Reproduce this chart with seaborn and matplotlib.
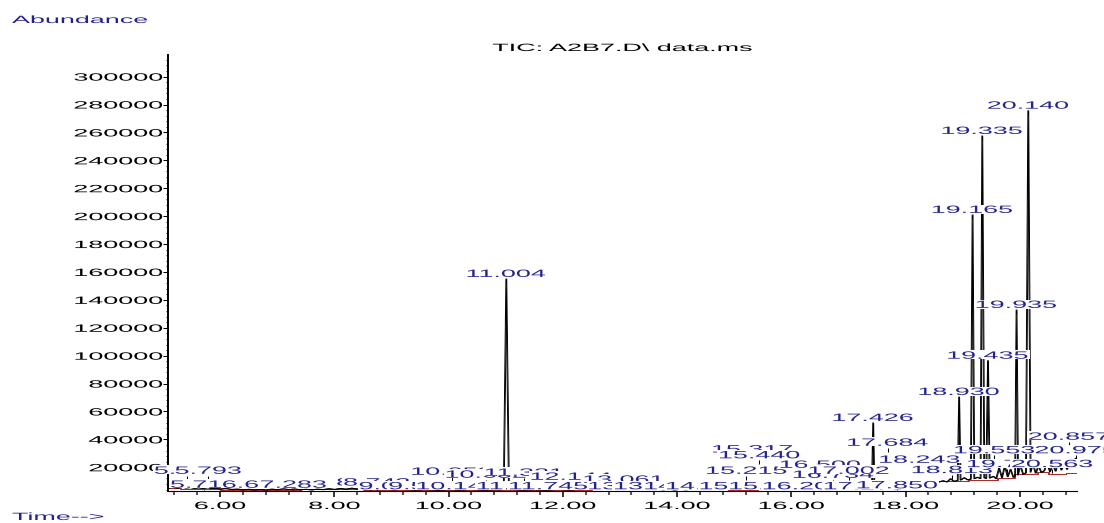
import numpy as np
import matplotlib
matplotlib.use("Agg")
import matplotlib.pyplot as plt
import matplotlib.patheffects as pe
from matplotlib.transforms import Affine2D
from matplotlib.path import Path
from matplotlib.ticker import MultipleLocator, FixedLocator, FormatStrFormatter
import seaborn as sns

# ---------------- data ----------------
trace_time = [5.10, 5.18, 5.25, 5.32, 5.40, 5.48, 5.55, 5.62, 5.70, 5.78, 5.85, 5.92,
              6.00, 6.10, 6.20, 6.30, 6.40, 6.50, 6.60, 6.70, 6.80, 6.90, 7.00, 7.10,
              7.20, 7.30, 7.40, 7.50, 7.60, 7.70, 7.80, 7.90, 8.00, 8.10, 8.20, 8.30,
              8.40, 8.50, 8.60, 8.70, 8.80, 8.90, 9.00, 9.20, 9.40, 9.60, 9.80, 10.00,
              10.20, 10.40, 10.60, 10.80, 10.90, 10.96, 11.004, 11.05, 11.10, 11.30,
              11.50, 11.70, 11.90, 12.10, 12.30, 12.45, 12.55, 12.65, 12.75, 12.85,
              12.95, 13.05, 13.15, 13.25, 13.35, 13.45, 13.55, 13.65, 13.75, 13.85,
              13.95, 14.05, 14.15, 14.25, 14.35, 14.45, 14.55, 14.65, 14.75, 14.85,
              14.95, 15.05, 15.15, 15.25, 15.35, 15.45, 15.55, 15.65, 15.75, 15.85,
              15.95, 16.05, 16.15, 16.25, 16.35, 16.45, 16.55, 16.65, 16.75, 16.85,
              16.95, 17.05, 17.15, 17.25, 17.35, 17.405, 17.426, 17.445, 17.55, 17.65,
              17.75, 17.85, 17.95, 18.05, 18.15, 18.25, 18.35, 18.45, 18.55, 18.65,
              18.72, 18.78, 18.84, 18.905, 18.93, 18.955, 19.02, 19.08, 19.135, 19.165,
              19.195, 19.25, 19.305, 19.335, 19.37, 19.405, 19.435, 19.465, 19.53, 19.58,
              19.63, 19.68, 19.73, 19.78, 19.83, 19.88, 19.91, 19.935, 19.96, 20.00,
              20.05, 20.10, 20.14, 20.18, 20.22, 20.27, 20.32, 20.37, 20.42, 20.47,
              20.52, 20.57, 20.62, 20.67, 20.72, 20.77, 20.82, 20.87, 20.92, 20.97,
              21.00]
trace_abund = [5200, 5600, 5000, 5800, 5200, 5500, 4900, 5300, 4800, 5400, 4700, 5000,
               4400, 4700, 4100, 4300, 3900, 4200, 3800, 4100, 3700, 4300, 3900, 4500,
               4000, 4400, 3900, 4200, 3800, 4300, 4000, 4600, 4100, 4800, 4300, 5000,
               4400, 4900, 4200, 4700, 4100, 4400, 3900, 4200, 3800, 4100, 3700, 4000,
               3800, 4100, 3700, 4000, 3900, 4200, 155000, 4500, 4100, 3800,
               4000, 3700, 4100, 3800, 4300, 4900, 4400, 5600, 4800, 5400,
               4700, 5200, 4500, 4900, 4300, 4700, 4100, 4400, 3900, 4300,
               3800, 4200, 3900, 4500, 4100, 4600, 4200, 4700, 4300, 4800,
               4400, 5000, 4600, 5200, 4800, 5400, 5000, 5600, 5200, 5900,
               5500, 6200, 5800, 6600, 6100, 6900, 6400, 7200, 6700, 7500,
               7000, 7800, 7200, 8100, 7600, 8000, 51800, 8200, 7800, 8600,
               8000, 8900, 8300, 9200, 8600, 9500, 8900, 9800, 9200, 10300,
               9500, 11800, 9900, 10500, 70400, 10800, 12500, 11000, 11500, 200900,
               11800, 12800, 11900, 257500, 12500, 12000, 96400, 12300, 13500, 11800,
               19500, 12500, 21000, 13200, 18500, 12800, 14000, 132800, 14500, 21500,
               15000, 16000, 275600, 16500, 22500, 15800, 21000, 16200, 17500, 23000,
               16800, 22000, 17200, 24500, 18000, 23000, 18500, 25500, 21500, 26500,
               24000]

base_time = [5.10, 5.30, 5.60, 6.00, 6.80, 7.40, 7.90, 8.50, 9.10, 10.40, 10.90, 11.40,
             12.00, 12.50, 13.10, 13.90, 14.90, 15.40, 15.90, 16.10, 16.80, 17.60,
             18.10, 18.40, 18.70, 19.10, 19.60, 19.90, 20.30, 20.50, 20.80, 21.00]
base_abund = [5000, 4500, 4200, 3600, 3800, 4100, 4400, 4000, 3600, 3400, 3700, 3900,
              3500, 3300, 3200, 3300, 3800, 4400, 6100, 7300, 8700, 9700,
              10900, 10200, 10200, 10900, 12000, 15200, 16500, 15200, 16000, 16000]

peak_rt = [5.430, 5.713, 5.793, 6.620, 7.283, 8.620, 8.743, 9.013, 9.534, 10.053,
           10.143, 10.652, 11.004, 11.181, 11.321, 11.745, 12.144, 13.061, 13.154,
           13.603, 14.115, 14.512, 15.098, 15.215, 15.317, 15.440, 15.617, 16.205,
           16.500, 16.734, 17.002, 17.275, 17.426, 17.684, 17.850, 18.243, 18.813,
           18.930, 19.165, 19.335, 19.435, 19.553, 19.780, 19.935, 20.140, 20.563,
           20.857, 20.975]
peak_abund = [13900, 3900, 13900, 3900, 3900, 5500, 5500, 2800, 2800, 13200,
              2800, 11100, 155000, 2800, 12500, 2800, 9600, 7500, 2800,
              2800, 2800, 2800, 2800, 13900, 29200, 25000, 2800, 2800,
              18200, 11000, 13900, 2800, 51800, 34000, 3500, 21800, 14400,
              70400, 200900, 257500, 96400, 28600, 18700, 132800, 275600, 18700,
              38300, 28600]

x_ticks = [6, 8, 10, 12, 14, 16, 18, 20]
y_ticks = list(range(20000, 300001, 20000))
title_text = "TIC: A2B7.D\\ data.ms"
y_label_text = "Abundance"
x_label_text = "Time-->"

# ---------------- style ----------------
sns.set_style("white")
plt.rcParams["font.family"] = ["Liberation Sans", "DejaVu Sans"]

W, H = 1104, 523
SX = 2.55          # horizontal stretch of the lettering
FS = 7.6
NAVY = "#23238f"
RED = "#b02a2a"


class Stretch(pe.AbstractPathEffect):
    """Draw text glyphs horizontally widened around an anchor."""
    def __init__(self, sx=SX, anchor="center"):
        super().__init__()
        self.sx = sx
        self.anchor = anchor

    def draw_path(self, renderer, gc, tpath, affine, rgbFace=None):
        v = tpath.vertices
        if v is None or len(v) == 0:
            return
        codes = tpath.codes
        vv = v if codes is None else v[codes != Path.CLOSEPOLY]
        x0, x1 = vv[:, 0].min(), vv[:, 0].max()
        cx = {"center": 0.5 * (x0 + x1), "left": 0.0, "right": x1}[self.anchor]
        t = Affine2D().translate(-cx, 0).scale(self.sx, 1).translate(cx, 0)
        renderer.draw_path(gc, tpath, t + affine, rgbFace)


def wide_box(x0, y0, width, height, mutation_size):
    m = mutation_size
    w = width * SX
    nx0 = x0 + width / 2 - w / 2
    yb = y0 + 0.13 * m
    yt = y0 + height + 0.03 * m
    px = 1.0
    return Path([(nx0 - px, yb), (nx0 + w + px, yb), (nx0 + w + px, yt),
                 (nx0 - px, yt), (nx0 - px, yb)], closed=True)


fig = plt.figure(figsize=(W / 100, H / 100), dpi=100)
ax = fig.add_axes([168 / W, 1 - 491 / H, (1077 - 168) / W, (491 - 55) / H])

double = [pe.Stroke(offset=(0.6, 0)), pe.Normal()]
sns.lineplot(x=base_time, y=base_abund, drawstyle="steps-post", color=RED,
             lw=0.7, ax=ax, errorbar=None, zorder=1.8, path_effects=double)
sns.lineplot(x=trace_time, y=trace_abund, color="black", lw=0.7, ax=ax,
             errorbar=None, zorder=2, path_effects=double)

# peak marker ticks
ax.vlines(peak_rt, np.array(peak_abund) - 2900, peak_abund, color="black",
          lw=0.75, zorder=2.2)

# peak labels (later ones cover earlier ones)
for i, (rt, ab) in enumerate(zip(peak_rt, peak_abund)):
    ax.annotate(f"{rt:.3f}", xy=(rt, ab), xytext=(0, 2), textcoords="offset pixels",
                ha="center", va="baseline", color=NAVY, fontsize=FS,
                annotation_clip=False, zorder=5 + i * 0.01,
                path_effects=[Stretch(anchor="center")],
                bbox=dict(boxstyle=wide_box, fc="white", ec="none", lw=0))

ax.set_xlim(5.09, 21.0)
ax.set_ylim(3000, 315500)
ax.set_xlabel("")
ax.set_ylabel("")

for s in ("top", "right"):
    ax.spines[s].set_visible(False)
ax.spines["left"].set_linewidth(1.4)
ax.spines["bottom"].set_linewidth(0.8)
ax.spines["bottom"].set_zorder(20)
ax.spines["left"].set_color("black")
ax.spines["bottom"].set_color("black")

ax.xaxis.set_major_locator(FixedLocator(x_ticks))
ax.xaxis.set_major_formatter(FormatStrFormatter("%.2f"))
ax.xaxis.set_minor_locator(MultipleLocator(0.4))
ax.yaxis.set_major_locator(FixedLocator(y_ticks))
ax.yaxis.set_major_formatter(FormatStrFormatter("%d"))
ax.yaxis.set_minor_locator(MultipleLocator(4000))

ax.tick_params(axis="x", which="major", direction="out", length=4.2, width=1.1,
               pad=3, labelsize=FS, colors="black", bottom=True)
ax.tick_params(axis="x", which="minor", direction="out", length=2.8, width=1.1,
               bottom=True)
ax.tick_params(axis="y", which="major", direction="out", length=3.5, width=0.75,
               pad=0.8, labelsize=FS, colors="black", left=True)
ax.tick_params(axis="y", which="minor", direction="out", length=1.5, width=0.75,
               left=True)

for lbl in ax.get_xticklabels():
    lbl.set_path_effects([Stretch(anchor="center")])
for lbl in ax.get_yticklabels():
    lbl.set_path_effects([Stretch(anchor="right")])

fig.text(622 / W, 1 - 48 / H, title_text, ha="center", va="center", fontsize=FS,
         color="black", path_effects=[Stretch(anchor="center")])
fig.text(12 / W, 1 - 20 / H, y_label_text, ha="left", va="center", fontsize=FS,
         color=NAVY, path_effects=[Stretch(anchor="left")])
fig.text(12 / W, 1 - 517 / H, x_label_text, ha="left", va="center", fontsize=FS,
         color=NAVY, path_effects=[Stretch(anchor="left")])

fig.savefig("out.png", dpi=100, facecolor="white")
